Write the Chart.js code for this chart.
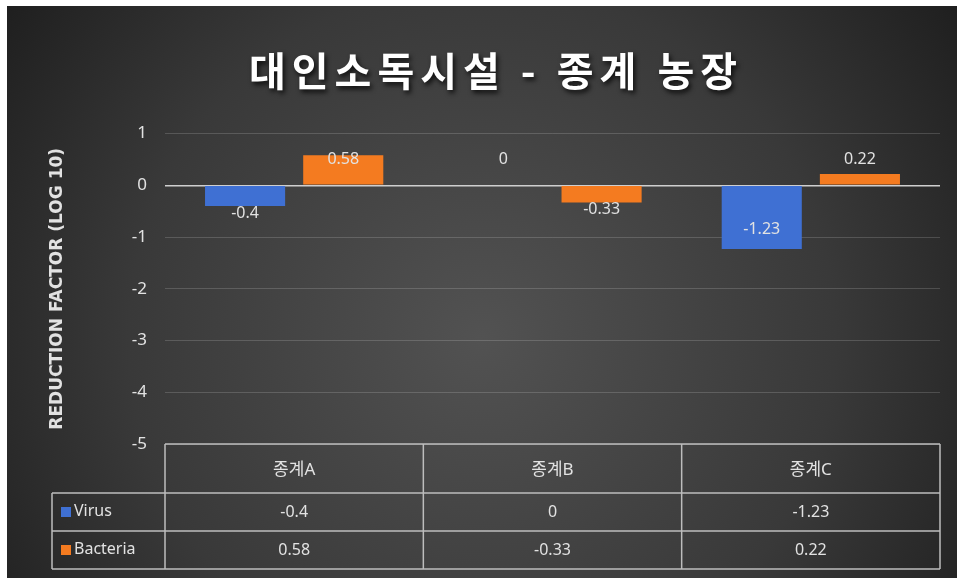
<!DOCTYPE html>
<html>
<head>
<meta charset="utf-8">
<script src="https://cdn.jsdelivr.net/npm/chart.js@4/dist/chart.umd.min.js"></script>
<style>
    html, body { margin: 0; padding: 0; background: #fff; }
    #wrap { position: absolute; left: 7px; top: 6px; width: 950px; height: 572px; }
</style>
</head>
<body>
<div id="wrap"><canvas id="chart"></canvas></div>
<script>
// --- data ---
const categories = ['종계A', '종계B', '종계C'];
const seriesNames = ['Virus', 'Bacteria'];
const virusValues = [-0.4, 0, -1.23];
const bacteriaValues = [0.58, -0.33, 0.22];
const yTicks = [1, 0, -1, -2, -3, -4, -5];
const chartTitle = '대인소독시설 - 종계 농장';

const BLUE = '#3f70d3';
const ORANGE = '#f47b20';
const TEXT = '#e2e2e2';
const FONT = "'Noto Sans', 'Noto Sans CJK KR', sans-serif";

// dark radial background like the Excel style
const backgroundPlugin = {
    id: 'bg',
    beforeDraw(chart) {
        const { ctx, width, height } = chart;
        const g = ctx.createRadialGradient(width * 0.5, height * 0.58, 0, width * 0.5, height * 0.58, width * 0.62);
        g.addColorStop(0, '#525252');
        g.addColorStop(0.6, '#393939');
        g.addColorStop(1, '#1e1e1e');
        ctx.save();
        ctx.fillStyle = g;
        ctx.fillRect(0, 0, width, height);
        ctx.restore();
    }
};

// title drawn with spacing + shadow in the room the (invisible) title box reserves
const shadowTitle = {
    id: 'shadowTitle',
    afterDraw(chart) {
        const box = chart.titleBlock;
        if (!box) return;
        const { ctx } = chart;
        ctx.save();
        ctx.font = "bold 40px 'Noto Sans CJK KR', sans-serif";
        ctx.letterSpacing = '6px';
        ctx.textAlign = 'center';
        ctx.textBaseline = 'middle';
        ctx.shadowColor = 'rgba(0,0,0,0.8)';
        ctx.shadowBlur = 5;
        ctx.shadowOffsetX = 2;
        ctx.shadowOffsetY = 3;
        ctx.fillStyle = '#ffffff';
        ctx.fillText(chartTitle, (box.left + box.right) / 2 + 4, box.top + 41 + 24);
        ctx.restore();
    }
};

// value labels next to the bars
const valueLabels = {
    id: 'valueLabels',
    afterDatasetsDraw(chart) {
        const { ctx } = chart;
        const y = chart.scales.y;
        const zero = y.getPixelForValue(0);
        const unit = y.getPixelForValue(0) - y.getPixelForValue(1);
        ctx.save();
        ctx.font = '16px ' + FONT;
        ctx.fillStyle = TEXT;
        ctx.textAlign = 'center';
        ctx.textBaseline = 'middle';
        chart.data.datasets.forEach((ds, di) => {
            chart.getDatasetMeta(di).data.forEach((bar, i) => {
                const v = ds.data[i];
                let ly;
                if (v >= 0) {
                    ly = zero - unit * 0.5;
                } else if (bar.y - zero > 40) {
                    ly = bar.y - 20;
                } else {
                    ly = bar.y + 7;
                }
                ctx.fillText(String(v), bar.x, ly);
            });
        });
        ctx.restore();
    }
};

// data table under the plot area
const dataTable = {
    id: 'dataTable',
    afterDraw(chart) {
        const { ctx, chartArea } = chart;
        const x = chart.scales.x;
        const top = chartArea.bottom;
        const headerH = 49;
        const rowH = 38;
        const legendLeft = 45;
        const n = categories.length;
        const half = (x.getPixelForValue(1) - x.getPixelForValue(0)) / 2;
        const cols = [];
        for (let i = 0; i < n; i++) cols.push(x.getPixelForValue(i) - half);
        cols.push(x.getPixelForValue(n - 1) + half);
        const bottom = top + headerH + rowH * seriesNames.length;

        ctx.save();
        ctx.strokeStyle = '#bdbdbd';
        ctx.lineWidth = 1.5;
        ctx.beginPath();
        ctx.moveTo(cols[0], top); ctx.lineTo(cols[n], top);
        for (let r = 0; r <= seriesNames.length; r++) {
            const ry = top + headerH + rowH * r;
            ctx.moveTo(legendLeft, ry); ctx.lineTo(cols[n], ry);
        }
        cols.forEach(cx => { ctx.moveTo(cx, top); ctx.lineTo(cx, bottom); });
        ctx.moveTo(legendLeft, top + headerH); ctx.lineTo(legendLeft, bottom);
        ctx.stroke();

        ctx.fillStyle = TEXT;
        ctx.textBaseline = 'middle';
        ctx.font = '17px ' + FONT;
        ctx.textAlign = 'center';
        categories.forEach((c, i) => ctx.fillText(c, x.getPixelForValue(i), top + headerH / 2 + 2));

        const rows = [virusValues, bacteriaValues];
        const colors = [BLUE, ORANGE];
        rows.forEach((vals, r) => {
            const cy = top + headerH + rowH * r + rowH / 2;
            ctx.fillStyle = colors[r];
            ctx.fillRect(legendLeft + 9, cy - 5, 10, 10);
            ctx.fillStyle = TEXT;
            ctx.textAlign = 'left';
            ctx.font = '16px ' + FONT;
            ctx.fillText(seriesNames[r], legendLeft + 22, cy - 1);
            ctx.textAlign = 'center';
            vals.forEach((v, i) => ctx.fillText(String(v), x.getPixelForValue(i), cy));
        });
        ctx.restore();
    }
};

new Chart(document.getElementById('chart'), {
    type: 'bar',
    data: {
        labels: categories,
        datasets: [
            { label: seriesNames[0], data: virusValues, backgroundColor: BLUE, categoryPercentage: 0.76, barPercentage: 0.816 },
            { label: seriesNames[1], data: bacteriaValues, backgroundColor: ORANGE, categoryPercentage: 0.76, barPercentage: 0.816 }
        ]
    },
    options: {
        responsive: true,
        maintainAspectRatio: false,
        animation: false,
        layout: { padding: { left: 37, right: 17, top: 0, bottom: 10 } },
        plugins: {
            legend: { display: false },
            tooltip: { enabled: false },
            title: {
                display: true,
                text: chartTitle,
                color: 'rgba(0,0,0,0)',
                font: { family: "'Noto Sans CJK KR', sans-serif", size: 38, weight: 'bold' },
                padding: { top: 41, bottom: 41 }
            }
        },
        scales: {
            x: {
                grid: { display: false },
                border: { display: false },
                ticks: { display: false },
                afterFit(scale) { scale.height = 124; }
            },
            y: {
                min: yTicks[yTicks.length - 1],
                max: yTicks[0],
                afterBuildTicks(scale) { scale.ticks = yTicks.map(v => ({ value: v })); },
                ticks: { color: TEXT, font: { family: FONT, size: 17 }, padding: 18 },
                grid: {
                    drawTicks: false,
                    color: ctx => ctx.tick && ctx.tick.value === 0 ? '#cfcfcf' : 'rgba(255,255,255,0.16)',
                    lineWidth: ctx => ctx.tick && ctx.tick.value === 0 ? 1.5 : 1
                },
                border: { display: false },
                title: {
                    display: true,
                    text: 'REDUCTION FACTOR (LOG 10)',
                    color: TEXT,
                    font: { family: "'DejaVu Sans', sans-serif", size: 17, weight: 'bold' },
                    padding: { top: 3, bottom: 4 }
                },
                afterFit(scale) { scale.width = 121; }
            }
        }
    },
    plugins: [backgroundPlugin, valueLabels, dataTable, shadowTitle]
});
</script>
</body>
</html>
